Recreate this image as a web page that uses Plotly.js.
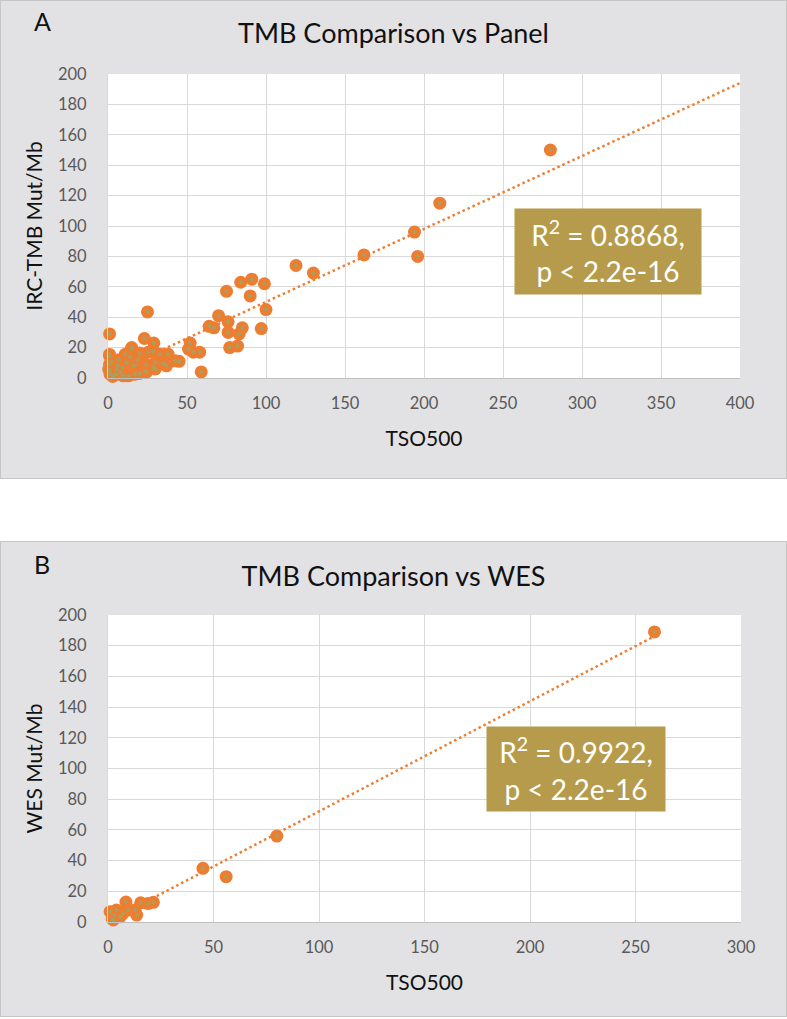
<!DOCTYPE html>
<html>
<head>
<meta charset="utf-8">
<script src="https://cdn.plot.ly/plotly-3.0.1.min.js"></script>
<style>
  html, body { margin: 0; padding: 0; background: #ffffff; width: 787px; height: 1019px; overflow: hidden; }
  .panel { position: absolute; left: 0; width: 785px; border: 1px solid #c6c6c6; background: #e2e2e4; }
  #panelA { top: 0; height: 477px; }
  #panelB { top: 541px; height: 474px; }
</style>
</head>
<body>
<div id="panelA" class="panel"></div>
<div id="panelB" class="panel"></div>
<script>
// ---------- Panel A data: TSO500 vs IRC-TMB (Mut/Mb) ----------
const panelA_tso500 = [
  280, 210, 194, 196, 162, 130, 119, 99, 91, 84, 75, 90, 100, 70, 76, 64, 67, 85, 97, 76, 83, 77, 82, 52, 51, 54, 58, 59, 45, 25, 1,
  23, 29, 15, 20, 25.5, 33, 38, 42.5, 1, 1, 11.4, 17, 24, 30, 35, 5.5, 1.3, 13, 24.5, 30, 37, 1, 4.4, 12, 11, 15, 28.7, 23.4, 28.7,
  16, 17, 9.7, 1.3, 0.5, 5.5, 3, 7, 8, 6, 2, 19, 14, 9, 20
];
const panelA_irc = [
  150, 115, 96, 80, 81, 69, 74, 62, 65, 63, 57, 54, 45, 41, 37, 34, 33, 33, 32.5, 30, 29, 20, 21, 23, 19, 17, 17, 4, 11, 43.5, 29,
  26, 23, 19, 16.5, 17, 15.7, 15.7, 11.3, 15.5, 9, 10.2, 8, 9, 10.2, 9.7, 2.5, 4.7, 1.4, 4, 6, 8, 14.5, 2.5, 10.2, 15.7, 20, 17.8, 4.7, 6.9,
  8, 2.5, 1.4, 2.5, 5.8, 5.8, 1, 12, 4, 8, 11, 12, 14, 7, 3
];
// ---------- Panel B data: TSO500 vs WES (Mut/Mb) ----------
const panelB_tso500 = [259, 80, 45, 56, 8.5, 15.5, 19, 21.5, 12.8, 13.6, 2.5, 5.7, 1, 4, 9.5, 2, 3, 7];
const panelB_wes    = [189, 56, 35, 29.5, 13, 12.5, 12, 12.8, 7.8, 4.5, 1.3, 3.4, 6.7, 7.8, 7.8, 2, 4.5, 5.5];

const panelTitles = ['TMB Comparison vs Panel', 'TMB Comparison vs WES'];
const panelLetters = ['A', 'B'];
const yTitles = ['IRC-TMB Mut/Mb', 'WES Mut/Mb'];
const xTitle = 'TSO500';
const statTexts = ['R<sup>2</sup> = 0.8868,<br>p &lt; 2.2e-16', 'R<sup>2</sup> = 0.9922,<br>p &lt; 2.2e-16'];
const statPos = [[316.5, 83.4], [221.6, 100]];
const xRanges = [[0, 400], [0, 300]];
const trendEnds = [400, null]; // A forecast to axis end, B to last data point

const FONT = 'Lato, Carlito, Calibri, "Open Sans", sans-serif';
const ORANGE = '#ed7d31';
const OLIVE = '#a8a05c';
const BOX = '#b59b4b';

function linfit(xs, ys) {
  const n = xs.length;
  let sx = 0, sy = 0, sxx = 0, sxy = 0;
  for (let i = 0; i < n; i++) { sx += xs[i]; sy += ys[i]; sxx += xs[i]*xs[i]; sxy += xs[i]*ys[i]; }
  const slope = (n*sxy - sx*sy) / (n*sxx - sx*sx);
  return { slope, intercept: (sy - slope*sx) / n };
}

function draw(id, idx, xs, ys, dims) {
  const fit = linfit(xs, ys);
  const x0 = 0;
  const x1 = trendEnds[idx] !== null ? trendEnds[idx] : Math.max(...xs);
  const trend = {
    x: [x0, x1], y: [fit.intercept + fit.slope*x0, fit.intercept + fit.slope*x1],
    mode: 'lines', line: { color: ORANGE, width: 2.5, dash: '2.5px,3px' },
    hoverinfo: 'skip', showlegend: false
  };
  const pts = {
    x: xs, y: ys, mode: 'markers', showlegend: false,
    marker: { color: ORANGE, size: 13, line: { width: 0 } }, cliponaxis: false
  };
  const centers = {
    x: xs, y: ys, mode: 'markers', showlegend: false,
    marker: { color: OLIVE, size: 4, line: { width: 0 } }, cliponaxis: false
  };
  const layout = {
    width: 785, height: dims.h,
    margin: { l: 107, r: dims.r, t: 73, b: dims.b, autoexpand: false },
    paper_bgcolor: '#e2e2e4', plot_bgcolor: '#ffffff',
    font: { family: FONT, color: '#595959' },
    title: {
      text: panelTitles[idx], font: { family: FONT, size: 27, color: '#111111' },
      xref: 'container', x: 0.5, xanchor: 'center',
      yref: 'container', y: 1 - dims.titleY / dims.h, yanchor: 'middle'
    },
    xaxis: {
      range: xRanges[idx], dtick: 50, tick0: 0,
      showgrid: true, gridcolor: '#d9d9d9', gridwidth: 1, zeroline: false,
      showline: true, linecolor: '#bfbfbf', linewidth: 1,
      ticks: '', ticklabelstandoff: 10,
      tickfont: { family: FONT, size: 16.5, color: '#595959' },
      title: { text: xTitle, font: { family: FONT, size: 21, color: '#111111' }, standoff: 19 },
      automargin: false, fixedrange: true
    },
    yaxis: {
      range: [0, 200], dtick: 20, tick0: 0,
      showgrid: true, gridcolor: '#d9d9d9', gridwidth: 1, zeroline: false,
      showline: true, linecolor: '#d9d9d9', linewidth: 1,
      ticks: '', ticklabelstandoff: 17,
      tickfont: { family: FONT, size: 16.5, color: '#595959' },
      title: { text: yTitles[idx], font: { family: FONT, size: 21, color: '#111111' }, standoff: 9 },
      automargin: false, fixedrange: true
    },
    annotations: [
      {
        xref: 'paper', yref: 'paper', x: (41 - 107) / (785 - 107 - dims.r), y: 1 + (73 - dims.letterY) / (dims.h - 73 - dims.b),
        text: panelLetters[idx], showarrow: false, xanchor: 'center', yanchor: 'middle',
        font: { family: FONT, size: 25, color: '#111111' }
      },
      {
        xref: 'x', yref: 'y', x: statPos[idx][0], y: statPos[idx][1],
        text: statTexts[idx], showarrow: false, xanchor: 'center', yanchor: 'middle',
        align: 'center', bgcolor: BOX, borderpad: 0, width: dims.boxW, height: dims.boxH,
        font: { family: FONT, size: 28, color: '#ffffff' }
      }
    ],
    showlegend: false
  };
  Plotly.newPlot(id, [trend, pts, centers], layout, { staticPlot: true, displayModeBar: false });
}

draw('panelA', 0, panelA_tso500, panelA_irc, { h: 477, r: 46, b: 100, titleY: 33, letterY: 20, boxW: 186, boxH: 85 });
draw('panelB', 1, panelB_tso500, panelB_wes, { h: 474, r: 45, b: 94, titleY: 35, letterY: 22, boxW: 178, boxH: 84 });
</script>
</body>
</html>
